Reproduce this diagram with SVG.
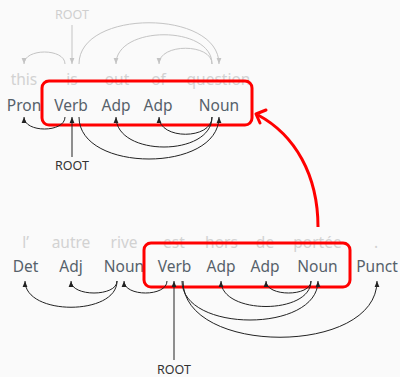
<svg xmlns="http://www.w3.org/2000/svg" width="400" height="377" viewBox="0 0 400 377">
<style>
text{font-family:"Noto Sans","Open Sans",sans-serif;text-anchor:middle}
.w{font-size:15.5px;fill:#d2d2d2}
.p{font-size:15.5px;fill:#56616a}
.r{font-size:12.5px;fill:#333}
.rg{font-size:12.5px;fill:#cfcfcf}
.a{fill:none;stroke:#222;stroke-width:1}
.g{fill:none;stroke:#c4c4c4;stroke-width:1}
.box{fill:none;stroke:#ff0000;stroke-width:3}
</style>
<defs>
<marker id="ah" markerUnits="userSpaceOnUse" markerWidth="6" markerHeight="6" viewBox="0 0 6 6" refX="6" refY="3" orient="auto"><path d="M0,0.6 L6,3 L0,5.4 z" fill="#222"/></marker>
<marker id="ahg" markerUnits="userSpaceOnUse" markerWidth="6" markerHeight="6" viewBox="0 0 6 6" refX="6" refY="3" orient="auto"><path d="M0,0.6 L6,3 L0,5.4 z" fill="#c4c4c4"/></marker>
</defs>
<rect width="400" height="377" fill="#fafafa"/>

<!-- top sentence -->
<g id="t-this"><text class="w" x="24" y="85">this</text><text class="p" x="24" y="110.5">Pron</text></g>
<g id="t-is"><text class="w" x="72" y="85">is</text><text class="p" x="71" y="110.5">Verb</text></g>
<g id="t-out"><text class="w" x="117" y="85">out</text><text class="p" x="116" y="110.5">Adp</text></g>
<g id="t-of"><text class="w" x="158.5" y="85">of</text><text class="p" x="158" y="110.5">Adp</text></g>
<g id="t-question"><text class="w" x="218.5" y="85">question</text><text class="p" x="219" y="110.5">Noun</text></g>
<g id="t-root-grey"><text class="rg" x="72" y="19">ROOT</text></g>
<g id="t-root"><text class="r" x="72" y="170">ROOT</text></g>

<!-- bottom sentence -->
<g id="b-l"><text class="w" x="25.5" y="247.5">l’</text><text class="p" x="25.5" y="272">Det</text></g>
<g id="b-autre"><text class="w" x="71" y="247.5">autre</text><text class="p" x="71" y="272">Adj</text></g>
<g id="b-rive"><text class="w" x="124" y="247.5">rive</text><text class="p" x="124" y="272">Noun</text></g>
<g id="b-est"><text class="w" x="174" y="247.5">est</text><text class="p" x="174.5" y="272">Verb</text></g>
<g id="b-hors"><text class="w" x="221.5" y="247.5">hors</text><text class="p" x="221" y="272">Adp</text></g>
<g id="b-de"><text class="w" x="265" y="247.5">de</text><text class="p" x="265" y="272">Adp</text></g>
<g id="b-portee"><text class="w" x="317.5" y="247.5">portée</text><text class="p" x="317.5" y="272">Noun</text></g>
<g id="b-punct"><text class="w" x="376" y="247.5">.</text><text class="p" x="377" y="272">Punct</text></g>
<g id="b-root"><text class="r" x="174" y="374">ROOT</text></g>

<g id="highlights">
<rect class="box" x="42" y="81" width="210" height="44" rx="7"/>
<rect class="box" x="144" y="243" width="206" height="44" rx="7"/>
</g>

<g id="connectors">
<!-- top grey (English) -->
<path class="g" d="M72,25 L72,64" marker-end="url(#ahg)"/>
<path class="g" d="M65,64 C65,48 24,48 24,64" marker-end="url(#ahg)"/>
<path class="g" d="M79,64 C79,9 219,9 219,64" marker-end="url(#ahg)"/>
<path class="g" d="M212,64 C212,25 116,25 116,64" marker-end="url(#ahg)"/>
<path class="g" d="M212,64 C212,43 159,43 159,64" marker-end="url(#ahg)"/>
<!-- top black -->
<path class="a" d="M72,157 L72,117" marker-end="url(#ah)"/>
<path class="a" d="M65,117 C65,133 24,133 24,117" marker-end="url(#ah)"/>
<path class="a" d="M79,117 C79,173 219,173 219,117" marker-end="url(#ah)"/>
<path class="a" d="M212,117 C212,157 116,157 116,117" marker-end="url(#ah)"/>
<path class="a" d="M212,117 C212,140 159,140 159,117" marker-end="url(#ah)"/>
<!-- bottom black -->
<path class="a" d="M174,360 L174,281" marker-end="url(#ah)"/>
<path class="a" d="M117,281 C117,316 25,316 25,281" marker-end="url(#ah)"/>
<path class="a" d="M117,281 C117,297 71,297 71,281" marker-end="url(#ah)"/>
<path class="a" d="M167,281 C167,297 124,297 124,281" marker-end="url(#ah)"/>
<path class="a" d="M182,281 C182,333 318,333 318,281" marker-end="url(#ah)"/>
<path class="a" d="M183,281 C183,356 377,356 377,281" marker-end="url(#ah)"/>
<path class="a" d="M311,281 C311,315 221,315 221,281" marker-end="url(#ah)"/>
<path class="a" d="M311,281 C311,297 266,297 266,281" marker-end="url(#ah)"/>
<!-- red link -->
<path d="M318,227 C318,175 295,135 258,115" fill="none" stroke="#ff0000" stroke-width="3"/>
<polyline points="266,110 256,114 260,123" fill="none" stroke="#ff0000" stroke-width="3" stroke-linecap="round" stroke-linejoin="round"/>
</g>
</svg>
